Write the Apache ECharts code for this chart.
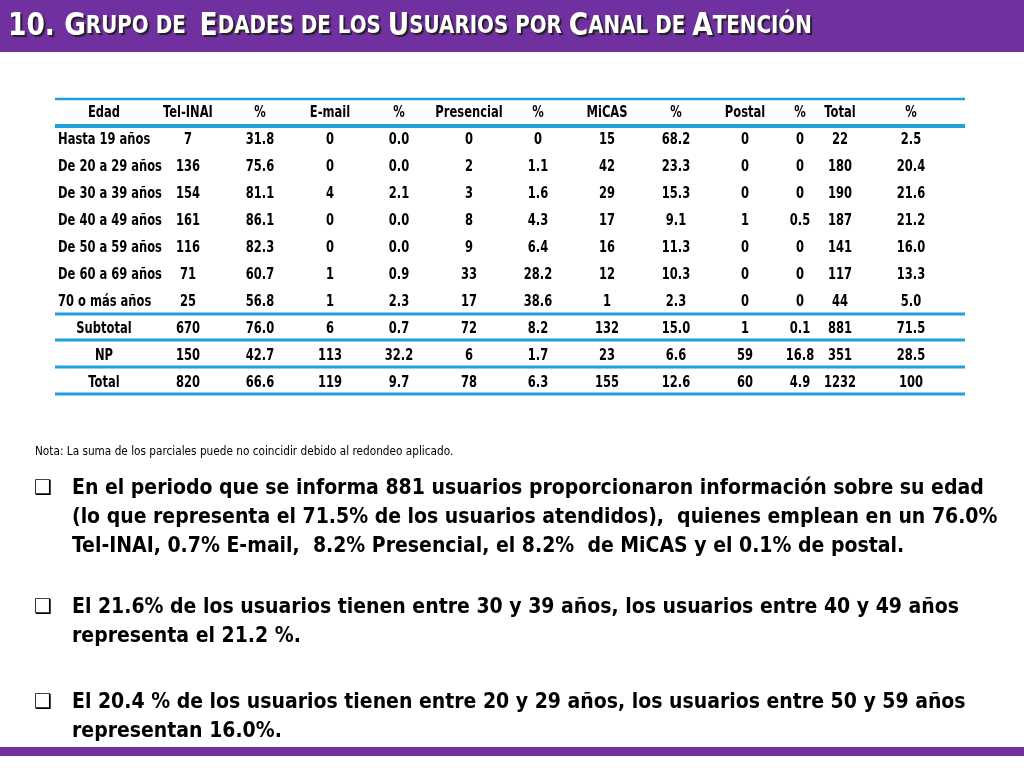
<!DOCTYPE html><html><head><meta charset="utf-8"><script src="https://cdn.jsdelivr.net/npm/echarts@6/dist/echarts.min.js"></script>
<style>html,body{margin:0;padding:0;background:#fff}#c{width:1024px;height:768px}</style></head><body><div id="c"></div><script>
const headers=['Edad','Tel-INAI','%','E-mail','%','Presencial','%','MiCAS','%','Postal','%','Total','%'];
const categories=['Hasta 19 años','De 20 a 29 años','De 30 a 39 años','De 40 a 49 años','De 50 a 59 años','De 60 a 69 años','70 o más años','Subtotal','NP','Total'];
const telinai=['7','136','154','161','116','71','25','670','150','820'];
const telinaiPct=['31.8','75.6','81.1','86.1','82.3','60.7','56.8','76.0','42.7','66.6'];
const email=['0','0','4','0','0','1','1','6','113','119'];
const emailPct=['0.0','0.0','2.1','0.0','0.0','0.9','2.3','0.7','32.2','9.7'];
const presencial=['0','2','3','8','9','33','17','72','6','78'];
const presencialPct=['0','1.1','1.6','4.3','6.4','28.2','38.6','8.2','1.7','6.3'];
const micas=['15','42','29','17','16','12','1','132','23','155'];
const micasPct=['68.2','23.3','15.3','9.1','11.3','10.3','2.3','15.0','6.6','12.6'];
const postal=['0','0','0','1','0','0','0','1','59','60'];
const postalPct=['0','0','0','0.5','0','0','0','0.1','16.8','4.9'];
const total=['22','180','190','187','141','117','44','881','351','1232'];
const totalPct=['2.5','20.4','21.6','21.2','16.0','13.3','5.0','71.5','28.5','100'];
const bullets=[
 ['En el periodo que se informa 881 usuarios proporcionaron información sobre su edad','(lo que representa el 71.5% de los usuarios atendidos),  quienes emplean en un 76.0%','Tel-INAI, 0.7% E-mail,  8.2% Presencial, el 8.2%  de MiCAS y el 0.1% de postal.'],
 ['El 21.6% de los usuarios tienen entre 30 y 39 años, los usuarios entre 40 y 49 años','representa el 21.2 %.'],
 ['El 20.4 % de los usuarios tienen entre 20 y 29 años, los usuarios entre 50 y 59 años','representan 16.0%.']
];
const cols=[telinai,telinaiPct,email,emailPct,presencial,presencialPct,micas,micasPct,postal,postalPct,total,totalPct];
const colX=[104,188,260,330,399,469,538,607,676,745,800,840,911];
const F="'DejaVu Sans Condensed','Liberation Sans Narrow',sans-serif";
const blue='#1ea0dc';
const SX=0.8;
const g=[];
g.push({type:'rect',shape:{x:0,y:0,width:1024,height:52},style:{fill:'#7030a0'}});
g.push({type:'rect',shape:{x:0,y:747,width:1024,height:9},style:{fill:'#7030a0'}});
const ts={fontWeight:'bold',fontFamily:F,fill:'#fff',textShadowColor:'#222',textShadowOffsetX:2,textShadowOffsetY:2,textShadowBlur:1};
g.push({type:'text',x:8,y:27,scaleX:0.92,style:{text:'{b|10. G}{s|RUPO DE  }{b|E}{s|DADES DE LOS }{b|U}{s|SUARIOS POR }{b|C}{s|ANAL DE }{b|A}{s|TENCIÓN}',verticalAlign:'middle',
 rich:{b:Object.assign({fontSize:32},ts),s:Object.assign({fontSize:24},ts)}}});
const line=(y,w)=>g.push({type:'line',shape:{x1:55,y1:y,x2:965,y2:y},style:{stroke:blue,lineWidth:w}});
line(99,2.5);line(126,4);line(314,3);line(340,3);line(367,3);line(394,3);
const txt=(x,y,t,align)=>g.push({type:'text',x,y,scaleX:SX,style:{text:t,align,verticalAlign:'middle',font:'bold 16px '+F,fill:'#000'}});
headers.forEach((h,i)=>txt(colX[i],113,h,'center'));
categories.forEach((c,r)=>{
 const y=140+27*r;
 if(r<7) txt(58,y,c,'left'); else txt(colX[0],y,c,'center');
 cols.forEach((arr,j)=>txt(colX[j+1],y,arr[r],'center'));
});
g.push({type:'text',x:35,y:452,scaleX:0.9,style:{text:'Nota: La suma de los parciales puede no coincidir debido al redondeo aplicado.',verticalAlign:'middle',font:'13px '+F,fill:'#000'}});
const by=[489,608,703];
bullets.forEach((b,i)=>{
 g.push({type:'text',x:34,y:by[i],style:{text:'❑',verticalAlign:'middle',font:'20px DejaVu Sans',fill:'#000'}});
 b.forEach((t,k)=>g.push({type:'text',x:72,y:by[i]+29*k,style:{text:t,verticalAlign:'middle',font:'bold 21px '+F,fill:'#000'}}));
});
const ch=echarts.init(document.getElementById('c'));
ch.setOption({animation:false,graphic:g});
</script></body></html>
